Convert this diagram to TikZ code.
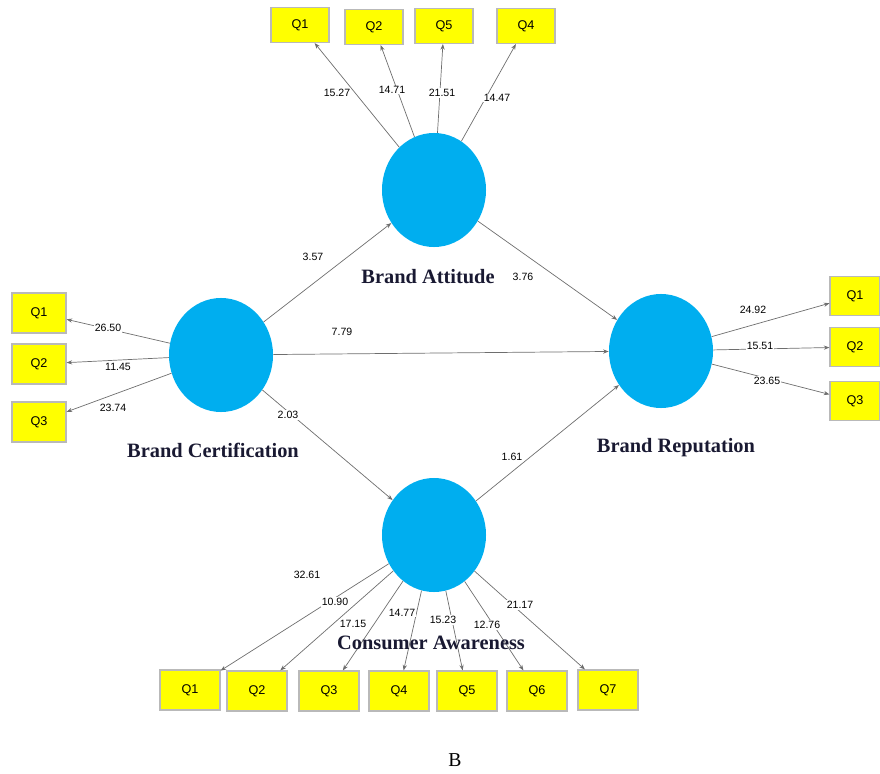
\documentclass[tikz,border=0pt]{standalone}
\usepackage{fontspec}
\setmainfont{Liberation Serif}
\setsansfont{Liberation Sans}
\usetikzlibrary{arrows.meta,shapes.geometric}
\definecolor{lvblue}{RGB}{0,174,239}
\definecolor{indyellow}{RGB}{255,255,0}
\definecolor{linegray}{RGB}{110,110,110}
\definecolor{namecol}{RGB}{25,25,50}
\begin{document}
\begin{tikzpicture}[x=0.025cm,y=-0.025cm,
 lv/.style={ellipse,fill=lvblue,minimum width=2.6cm,minimum height=2.85cm,inner sep=0},
 ind/.style={rectangle,fill=indyellow,draw=gray!55,line width=0.8pt,inner sep=0,font=\sffamily\fontsize{9}{10}\selectfont},
 indtop/.style={ind,minimum width=1.45cm,minimum height=0.875cm},
 indleft/.style={ind,minimum width=1.35cm,minimum height=1.0cm},
 indright/.style={ind,minimum width=1.25cm,minimum height=0.97cm},
 indbot/.style={ind,minimum width=1.5cm,minimum height=1.0cm},
 conn/.style={draw=linegray,line width=0.5pt,-{Stealth[length=4pt,width=3pt]}},
 wt/.style={fill=white,inner sep=0.6pt,font=\sffamily\fontsize{7.5}{8}\selectfont},
 lvname/.style={font=\bfseries\fontsize{14.5}{16}\selectfont,text=namecol}]
\useasboundingbox (0,0) rectangle (880,774);
% latent variables
\node[lv] (BA) at (434,190) {};
\node[lv] (BC) at (221,355) {};
\node[lv] (BR) at (661,351) {};
\node[lv] (CA) at (434,535) {};
% indicators top
\node[indtop] (t1) at (300,25) {Q1};
\node[indtop] (t2) at (374,27) {Q2};
\node[indtop] (t5) at (444,26) {Q5};
\node[indtop] (t4) at (526,26) {Q4};
% left
\node[indleft] (l1) at (39,313) {Q1};
\node[indleft] (l2) at (39,364) {Q2};
\node[indleft] (l3) at (39,422) {Q3};
% right
\node[indright] (r1) at (855,296) {Q1};
\node[indright] (r2) at (855,347) {Q2};
\node[indright] (r3) at (855,401) {Q3};
% bottom
\node[indbot] (b1) at (190,690) {Q1};
\node[indbot] (b2) at (257,691) {Q2};
\node[indbot] (b3) at (329,691) {Q3};
\node[indbot] (b4) at (399,691) {Q4};
\node[indbot] (b5) at (467,691) {Q5};
\node[indbot] (b6) at (537,691) {Q6};
\node[indbot] (b7) at (608,690) {Q7};
% outer model connectors
\foreach \t in {t1,t2,t5,t4} \draw[conn] (BA) -- (\t);
\foreach \t in {l1,l2,l3} \draw[conn] (BC) -- (\t);
\foreach \t in {r1,r2,r3} \draw[conn] (BR) -- (\t);
\foreach \t in {b1,b2,b3,b4,b5,b6,b7} \draw[conn] (CA) -- (\t);
% inner model
\draw[conn] (BC) -- (BA);
\draw[conn] (BA) -- (BR);
\draw[conn] (BC) -- (BR);
\draw[conn] (BC) -- (CA);
\draw[conn] (CA) -- (BR);
% weights
\node[wt] (w1) at (337,93) {15.27};
\node[wt] (w2) at (392,90) {14.71};
\node[wt] (w3) at (442,93) {21.51};
\node[wt] (w4) at (497,98) {14.47};
\node[wt] (w5) at (108,328) {26.50};
\node[wt] (w6) at (118,367) {11.45};
\node[wt] (w7) at (113,408) {23.74};
\node[wt] (w8) at (753,310) {24.92};
\node[wt] (w9) at (760,346) {15.51};
\node[wt] (w10) at (767,381) {23.65};
\node[wt] (w11) at (307,575) {32.61};
\node[wt] (w12) at (335,602) {10.90};
\node[wt] (w13) at (353,624) {17.15};
\node[wt] (w14) at (402,613) {14.77};
\node[wt] (w15) at (443,620) {15.23};
\node[wt] (w16) at (487,625) {12.76};
\node[wt] (w17) at (520,605) {21.17};
\node[wt] (p1) at (313,257) {3.57};
\node[wt] (p2) at (523,277) {3.76};
\node[wt] (p3) at (342,332) {7.79};
\node[wt] (p4) at (288,415) {2.03};
\node[wt] (p5) at (512,457) {1.61};
% names
\node[lvname] (nBA) at (428,277) {Brand Attitude};
\node[lvname] (nBC) at (213,450) {Brand Certification};
\node[lvname] (nBR) at (676,448) {Brand Reputation};
\node[lvname] (nCA) at (431,643) {Consumer Awareness};
\node[font=\fontsize{14}{16}\selectfont] (cap) at (455,760) {B};
\end{tikzpicture}
\end{document}
